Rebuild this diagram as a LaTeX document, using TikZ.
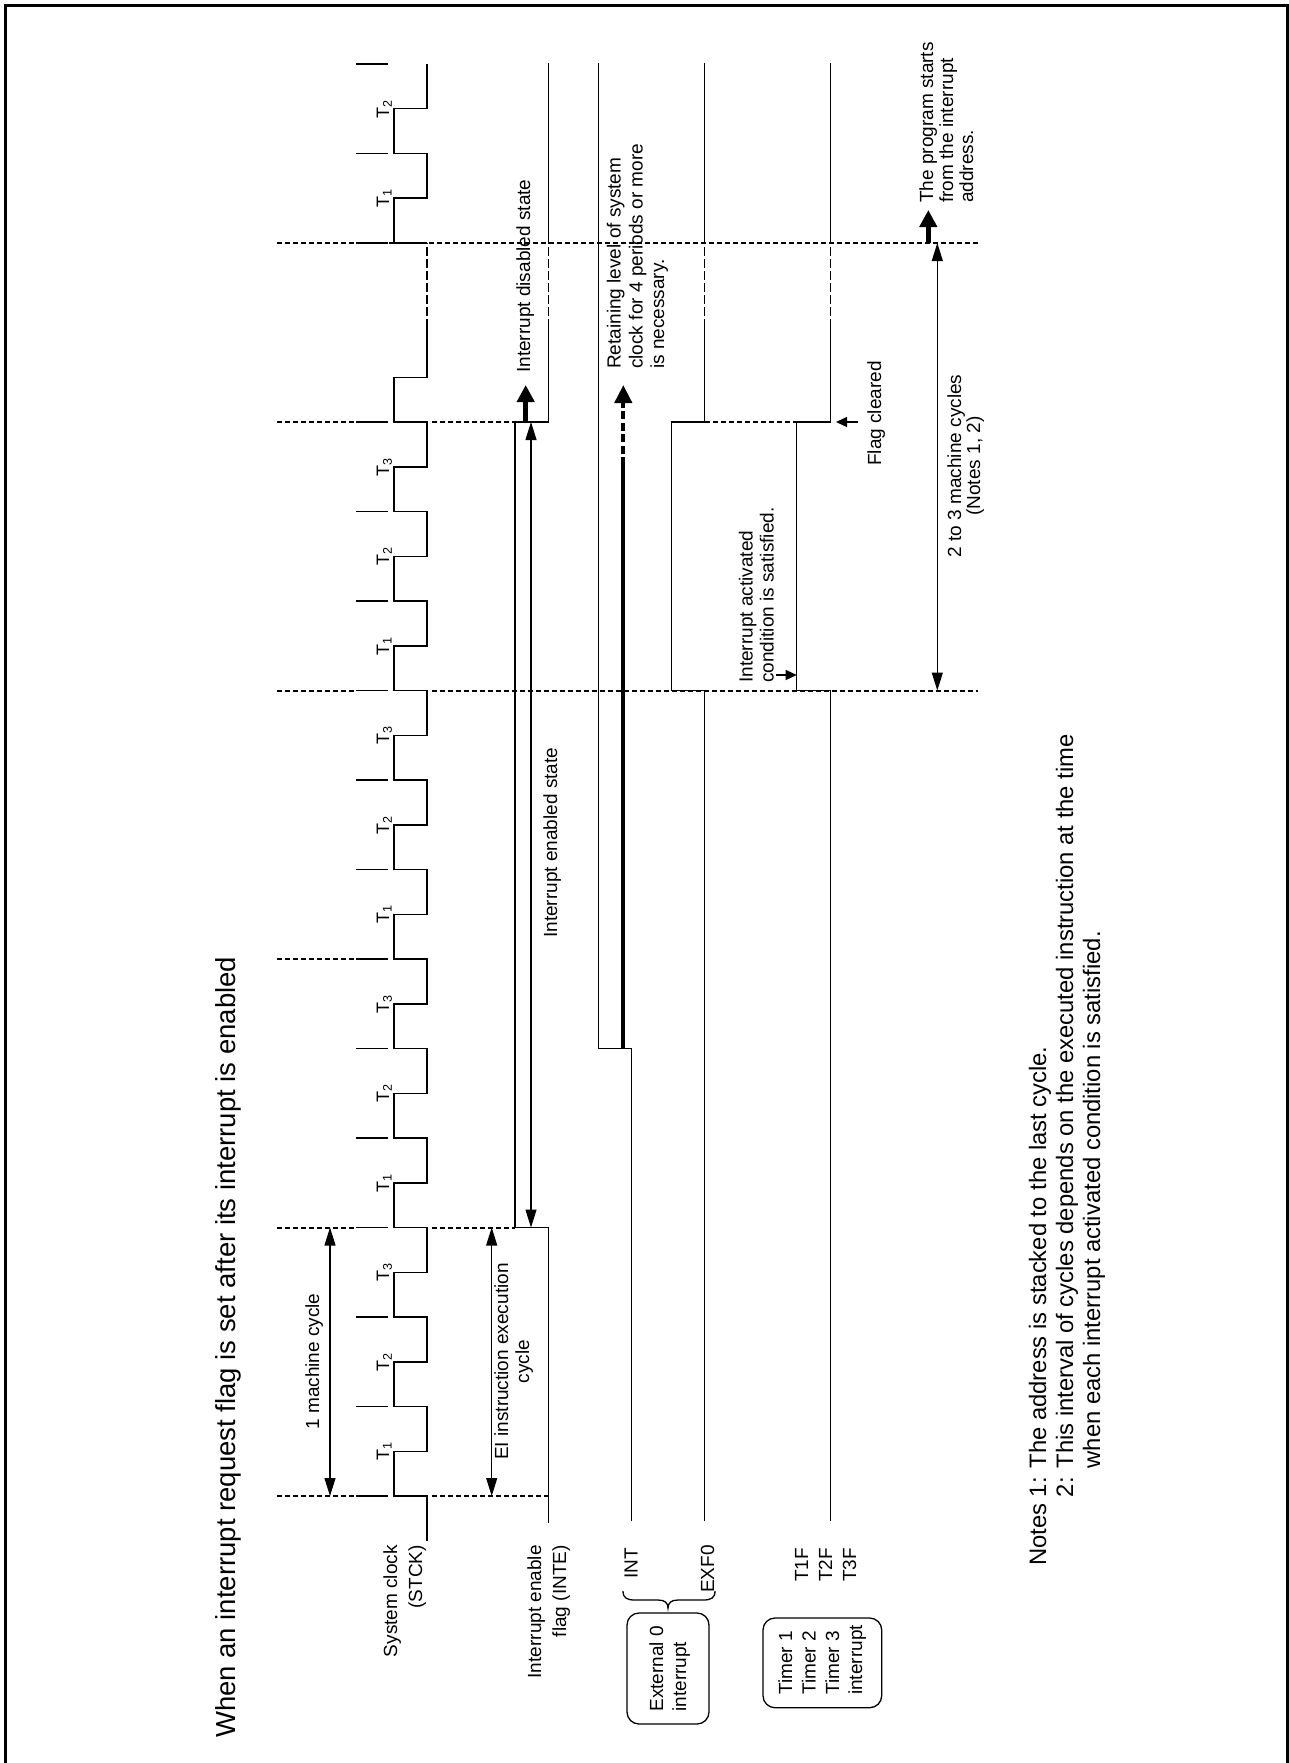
\documentclass[tikz,border=0pt]{standalone}
\usepackage{fontspec}
\setmainfont{Liberation Sans}
\usetikzlibrary{arrows.meta}
\begin{document}
\begin{tikzpicture}[x=1pt,y=-1pt,
  sig/.style={line width=1.3pt},
  clk/.style={line width=1.5pt},
  bnd/.style={line width=2pt, dash pattern=on 5pt off 3pt},
  sdash/.style={line width=1.3pt, dash pattern=on 9pt off 3pt},
  tickm/.style={line width=1.6pt},
  dimar/.style={line width=1.1pt, {Triangle[length=18pt,width=11pt]}-{Triangle[length=18pt,width=11pt]}},
  bigar/.style={line width=4.5pt, -{Triangle[length=17pt,width=17pt]}},
  smar/.style={line width=1.3pt, -{Triangle[length=11pt,width=10pt]}},
  lab/.style={rotate=90, inner sep=0pt, font=\fontsize{19}{23}\selectfont},
  tl/.style={rotate=90, inner sep=0pt, anchor=base, font=\fontsize{18}{22}\selectfont},
  note/.style={rotate=90, inner sep=0pt, anchor=base west, font=\fontsize{23.8}{28}\selectfont}
]
\useasboundingbox (0,0) rectangle (1289,1763);
% frame
\draw[line width=3pt] (5.5,1763)--(5.5,5.5)--(1287.5,5.5)--(1287.5,1763);

% boundary dashed lines
\foreach \y in {1496,1227.5,959,690.5,422} \draw[bnd] (277,\y)--(356,\y);
\draw[bnd] (432,1496)--(548.3,1496);
\draw[bnd] (432,1227.5)--(515,1227.5);
\draw[bnd] (432,690.5)--(978,690.5);
\draw[bnd] (432,422)--(515,422);
\draw[bnd] (704.5,422)--(796.7,422);
\draw[bnd] (277,243)--(978,243);
% ticks
\foreach \y in {1496,1406.5,1317,1227.5,1138,1048.5,959,869.5,780,690.5,601,511.5,422,243,153.5,64}
  \draw[tickm] (356,\y)--(388,\y);

% clock
\draw[clk] (427,1541) -- (427,1496) foreach \k in {0,...,11} {
   -- (394,{1496-89.5*\k}) -- (394,{1496-89.5*\k-44.75}) -- (427,{1496-89.5*\k-44.75}) -- (427,{1496-89.5*(\k+1)}) }
   -- (394,422) -- (394,377.25) -- (427,377.25) -- (427,328);
\draw[sdash] (427,328)--(427,243);
\draw[clk] (427,243)--(394,243)--(394,198.25)--(427,198.25)--(427,153.5)--(394,153.5)--(394,108.75)--(427,108.75)--(427,64);

% T labels
\foreach \k in {0,...,11} {
  \pgfmathtruncatemacro\tn{mod(\k,3)+1}
  \node[tl] (t\k) at (389,{1451.25-89.5*\k}) {T\textsubscript{\tn}};
}
\node[tl] (ta) at (389,198.25) {T\textsubscript{1}};
\node[tl] (tb) at (389,108.75) {T\textsubscript{2}};

% INTE
\draw[sig] (548.3,1523)--(548.3,1227.5)--(515,1227.5)--(515,422)--(548.3,422)--(548.3,328);
\draw[sdash] (548.3,328)--(548.3,243);
\draw[sig] (548.3,243)--(548.3,63);
% INT
\draw[sig] (631.7,1521)--(631.7,1048.5)--(598.3,1048.5)--(598.3,63);
\draw[line width=4pt] (623.3,1048.5)--(623.3,465);
\draw[line width=4pt, dash pattern=on 8pt off 3.5pt, -{Triangle[length=18pt,width=17pt]}] (623.3,465)--(623.3,385);
% EXF0
\draw[sig] (704.5,1521)--(704.5,690.5)--(671.7,690.5)--(671.7,422)--(704.5,422)--(704.5,328);
\draw[sdash] (704.5,328)--(704.5,243);
\draw[sig] (704.5,243)--(704.5,63);
% T1F
\draw[sig] (830.7,1521)--(830.7,690.5)--(796.7,690.5)--(796.7,422)--(830.7,422)--(830.7,328);
\draw[sdash] (830.7,328)--(830.7,243);
\draw[sig] (830.7,243)--(830.7,63);

% dimension arrows
\coordinate (m1a) at (330,1496); \coordinate (m1b) at (330,1227.5);
\draw[dimar] (m1a)--(m1b);
\coordinate (eia) at (491.7,1496); \coordinate (eib) at (491.7,1227.5);
\draw[dimar] (eia)--(eib);
\coordinate (ena) at (531,1227.5); \coordinate (enb) at (531,422);
\draw[dimar] (ena)--(enb);
\coordinate (mca) at (937.3,690.5); \coordinate (mcb) at (937.3,243);
\draw[dimar] (mca)--(mcb);
% thick arrows
\coordinate (dsa) at (525.7,422); \coordinate (dsb) at (525.7,385);
\draw[bigar] (dsa)--(dsb);
\coordinate (psa) at (928.3,243); \coordinate (psb) at (928.3,210);
\draw[bigar] (psa)--(psb);
% small arrows
\coordinate (iaa) at (776,675); \coordinate (iab) at (796.7,675);
\draw[smar] (iaa)--(iab);
\coordinate (fca) at (858,422); \coordinate (fcb) at (836,422);
\draw[smar] (fca)--(fcb);

% brace
\draw[sig] (623,1591) .. controls (623,1598) and (627,1600) .. (635,1600) -- (658,1600)
  .. controls (665,1600) and (668,1603) .. (668,1608)
  .. controls (668,1603) and (671,1600) .. (678,1600) -- (703,1600)
  .. controls (711,1600) and (715,1598) .. (715,1591);
% boxes
\draw[sig, rounded corners=12pt] (627,1613) rectangle (709,1724);
\draw[sig, rounded corners=12pt] (763,1618) rectangle (881.7,1707.7);

% texts
\node[lab, anchor=base west, font=\fontsize{27.5}{33}\selectfont] (title) at (235,1738) {When an interrupt request flag is set after its interrupt is enabled};
\node[lab, anchor=base east] (sc1) at (397,1545) {System clock};
\node[lab, anchor=base east] (sc2) at (422,1545) {(STCK)};
\node[lab, anchor=base east] (ie1) at (541,1545) {Interrupt enable};
\node[lab, anchor=base east] (ie2) at (566,1545) {flag (INTE)};
\node[lab, anchor=base east] (int) at (637.5,1548) {INT};
\node[lab, anchor=base east] (exf) at (714,1545) {EXF0};
\node[lab, anchor=base east] (t1f) at (808,1548) {T1F};
\node[lab, anchor=base east] (t2f) at (832,1548) {T2F};
\node[lab, anchor=base east] (t3f) at (856,1548) {T3F};
\node[lab, anchor=base west] (ex1) at (663,1711.7) {External 0};
\node[lab, anchor=base west] (ex2) at (686,1711.7) {interrupt};
\node[lab, anchor=base west] (tm1) at (792,1695) {Timer 1};
\node[lab, anchor=base west] (tm2) at (815.5,1695) {Timer 2};
\node[lab, anchor=base west] (tm3) at (839,1695) {Timer 3};
\node[lab, anchor=base west] (tm4) at (862,1695) {interrupt};

\node[lab, anchor=base] (mc) at (319,1361.5) {1 machine cycle};
\node[lab, anchor=base] (ei1) at (508,1361.5) {EI instruction execution};
\node[lab, anchor=base] (ei2) at (529,1361.5) {cycle};
\node[lab, anchor=base west] (ens) at (557,938) {Interrupt enabled state};
\node[lab, anchor=base west] (dis) at (530,373) {Interrupt disabled state};
\node[lab, anchor=base west] (rt1) at (620.5,369) {Retaining level of system};
\node[lab, anchor=base west] (rt2) at (642.5,369) {clock for 4 periods or more};
\node[lab, anchor=base west] (rt3) at (664,369) {is necessary.};
\node[lab, anchor=base west] (ia1) at (752.5,683) {Interrupt activated};
\node[lab, anchor=base west] (ia2) at (773.5,683) {condition is satisfied.};
\node[lab, anchor=base west] (flc) at (881,466) {Flag cleared};
\node[lab, anchor=base] (tm3a) at (961,466) {2 to 3 machine cycles};
\node[lab, anchor=base] (tm3b) at (980,466) {(Notes 1, 2)};
\node[lab, anchor=base west] (ps1) at (933,203) {The program starts};
\node[lab, anchor=base west] (ps2) at (953,203) {from the interrupt};
\node[lab, anchor=base west] (ps3) at (973,203) {address.};

\node[note] (n1) at (1046,1566) {Notes 1: The address is stacked to the last cycle.};
\node[note] (n2) at (1073,1566) {\phantom{Notes }2: This interval of cycles depends on the executed instruction at the time};
\node[note] (n3) at (1100,1566) {\phantom{Notes 2: }when each interrupt activated condition is satisfied.};
\end{tikzpicture}
\end{document}
